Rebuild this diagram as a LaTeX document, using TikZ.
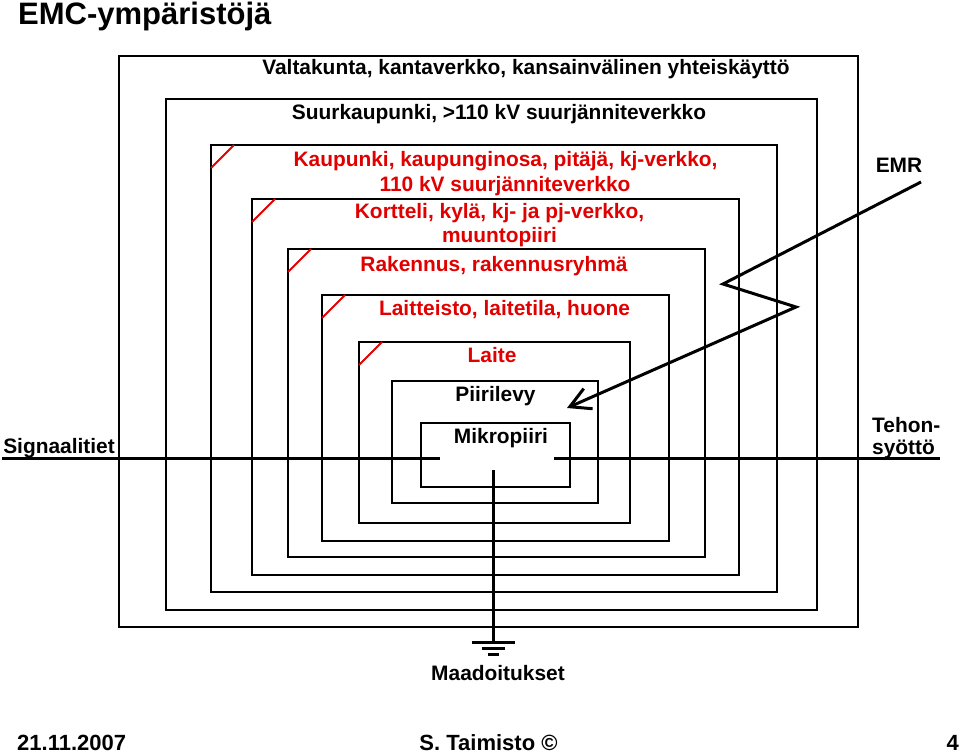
\documentclass[tikz,border=0pt]{standalone}
\usepackage{fontspec}
\setmainfont{Liberation Sans}
\usetikzlibrary{arrows.meta}
\definecolor{emcred}{RGB}{225,0,0}

\begin{document}
\begin{tikzpicture}[x=1pt,y=-1pt]
    \tikzstyle{shell}=[line width=1.4pt]
    \tikzstyle{cut}=[emcred,line width=2pt]
    \tikzstyle{wire}=[line width=3pt]
    \tikzstyle{lbl}=[anchor=base,inner sep=0pt,font=\fontsize{20.9}{24}\selectfont\bfseries]
    \tikzstyle{redlbl}=[lbl,text=emcred]
    \tikzstyle{foot}=[anchor=base,inner sep=0pt,font=\fontsize{22}{26}\selectfont\bfseries]
    \useasboundingbox (0,0) rectangle (960,754);
    % nested environments
    \foreach \l/\t/\r/\b in {119/56/858/627,166/99/817/610,211/145/777/592,252/199/739/575,
            288/249/705/557,322/295/669/541,359/342/630/523,392/381/598/503,421/423/570/487}
        \draw[shell] (\l,\t) rectangle (\r,\b);
    \foreach \l/\t in {211/145,252/199,288/249,322/295,359/342}
        \draw[cut] (\l,\t+23) -- (\l+23,\t);
    % labels
    \node[anchor=base west,inner sep=0pt,font=\fontsize{31}{36}\selectfont\bfseries] (title) at (18,25) {EMC-ympäristöjä};
    \node[lbl] (valtakunta) at (526,75) {Valtakunta, kantaverkko, kansainvälinen yhteiskäyttö};
    \node[lbl] (suurkaupunki) at (499,120) {Suurkaupunki, >110 kV suurjänniteverkko};
    \node[redlbl] (kaupunki) at (505.5,167) {Kaupunki, kaupunginosa, pitäjä, kj-verkko,};
    \node[redlbl] (kaupunki2) at (505,191) {110 kV suurjänniteverkko};
    \node[redlbl] (kortteli) at (499.5,218) {Kortteli, kylä, kj- ja pj-verkko,};
    \node[redlbl] (kortteli2) at (499.5,242) {muuntopiiri};
    \node[redlbl] (rakennus) at (494,271) {Rakennus, rakennusryhmä};
    \node[redlbl] (laitteisto) at (504.5,315) {Laitteisto, laitetila, huone};
    \node[redlbl] (laite) at (492,362) {Laite};
    \node[lbl] (piirilevy) at (495.5,401) {Piirilevy};
    \node[lbl] (mikropiiri) at (501,443) {Mikropiiri};
    \node[lbl] (emr) at (899,172) {EMR};
    \node[lbl,anchor=base west] (tehon) at (872,432) {Tehon-};
    \node[lbl,anchor=base west] (syotto) at (872,454) {syöttö};
    \node[lbl] (signaalit) at (59,453) {Signaalitiet};
    \node[lbl] (maadoitus) at (498,680) {Maadoitukset};
    % wires
    \coordinate (sigin) at (2,458);
    \coordinate (chipin) at (440,458);
    \coordinate (chipout) at (554,458);
    \coordinate (pwrin) at (940,458);
    \coordinate (chipgnd) at (493,470);
    \coordinate (gnd) at (493,642);
    \draw[wire] (sigin) -- (chipin);
    \draw[wire] (chipout) -- (pwrin);
    \draw[wire] (chipgnd) -- (gnd);
    \draw[wire] ([xshift=-21.5pt]gnd) -- ([xshift=21.5pt]gnd);
    \draw[wire] ([shift={(-11.5,6)}]gnd) -- ([shift={(11.5,6)}]gnd);
    \draw[wire] ([shift={(-5.5,12)}]gnd) -- ([shift={(5.5,12)}]gnd);
    % radiated disturbance
    \coordinate (emrin) at (921,182);
    \coordinate (zig1) at (723,284);
    \coordinate (zig2) at (796,307);
    \coordinate (emrhit) at (567,408);
    \draw[wire,-{Straight Barb[length=20pt,width=22pt]}] (emrin) -- (zig1) -- (zig2) -- (emrhit);
    % footer
    \node[foot,anchor=base west] (date) at (17,750) {21.11.2007};
    \node[foot] (author) at (488.5,750) {S. Taimisto ©};
    \node[foot,anchor=base east] (page) at (959,750) {4};
\end{tikzpicture}
\end{document}
